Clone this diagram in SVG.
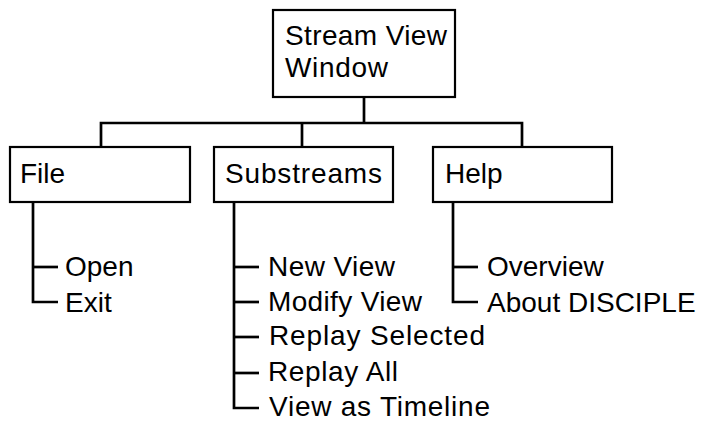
<svg xmlns="http://www.w3.org/2000/svg" width="711" height="421" viewBox="0 0 711 421">
  <style>
    .box { fill: #ffffff; stroke: #000000; stroke-width: 2.2; }
    .lbl { font-family: "Liberation Sans", Arial, sans-serif; font-size: 28px; fill: #000000; }
    .wire { fill: none; stroke: #000000; stroke-width: 2.7; stroke-linejoin: miter; }
  </style>
  <rect width="711" height="421" fill="#ffffff"/>

  <!-- connectors: tree lines from the window to its menus and menu items -->
  <g id="connectors" class="wire">
    <path d="M364 97 V123"/>
    <path d="M101 147 V123 H522 V147"/>
    <path d="M302 123 V147"/>
    <!-- File menu items -->
    <path d="M33 202 V302 H58"/>
    <path d="M33 267 H58"/>
    <!-- Substreams menu items -->
    <path d="M234 202 V408 H259"/>
    <path d="M234 267 H259"/>
    <path d="M234 302 H259"/>
    <path d="M234 337 H259"/>
    <path d="M234 373 H259"/>
    <!-- Help menu items -->
    <path d="M453 202 V302 H478"/>
    <path d="M453 267 H478"/>
  </g>

  <g id="stream-view-window">
    <rect class="box" x="273" y="10" width="182" height="87"/>
    <text class="lbl" x="285" y="45" textLength="162" lengthAdjust="spacing">Stream View</text>
    <text class="lbl" x="285" y="77" textLength="103" lengthAdjust="spacing">Window</text>
  </g>

  <g id="file">
    <rect class="box" x="10" y="147" width="180" height="55"/>
    <text class="lbl" x="20" y="183">File</text>
  </g>

  <g id="substreams">
    <rect class="box" x="214" y="147" width="179" height="55"/>
    <text class="lbl" x="225" y="183" textLength="157" lengthAdjust="spacing">Substreams</text>
  </g>

  <g id="help">
    <rect class="box" x="433" y="147" width="179" height="55"/>
    <text class="lbl" x="445" y="183">Help</text>
  </g>

  <g id="file-items">
    <text class="lbl" x="65" y="276">Open</text>
    <text class="lbl" x="65" y="312">Exit</text>
  </g>

  <g id="substreams-items">
    <text class="lbl" x="268" y="276" textLength="127" lengthAdjust="spacing">New View</text>
    <text class="lbl" x="268" y="311" textLength="154" lengthAdjust="spacing">Modify View</text>
    <text class="lbl" x="269" y="345" textLength="216" lengthAdjust="spacing">Replay Selected</text>
    <text class="lbl" x="268" y="381" textLength="130" lengthAdjust="spacing">Replay All</text>
    <text class="lbl" x="269" y="416" textLength="221" lengthAdjust="spacing">View as Timeline</text>
  </g>

  <g id="help-items">
    <text class="lbl" x="487" y="276">Overview</text>
    <text class="lbl" x="487" y="312">About DISCIPLE</text>
  </g>
</svg>
